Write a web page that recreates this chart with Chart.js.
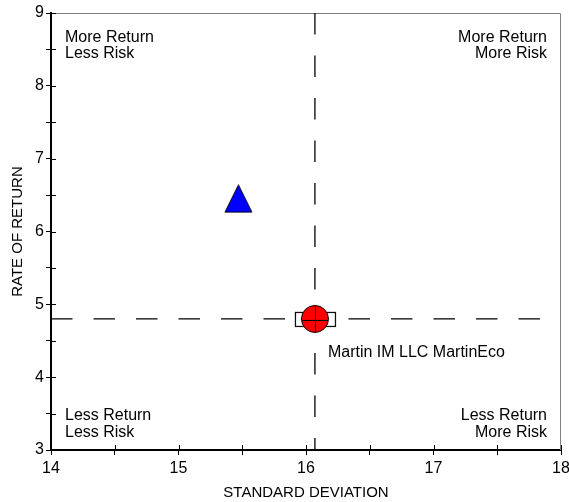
<!DOCTYPE html>
<html lang="en">
  <head>
    <meta charset="UTF-8" />
    <title>Risk / Return</title>
    <script src="https://cdn.jsdelivr.net/npm/chart.js"></script>
    <style>
      html, body { margin: 0; padding: 0; background: #fff; }
      #wrap { width: 569px; height: 502px; }
    </style>
  </head>
  <body>
    <div id="wrap"><canvas id="myChart" width="569" height="502"></canvas></div>

    <script>
      // data
      const xRange = [14, 18];
      const yRange = [3, 9];
      const managerName = "Martin IM LLC MartinEco";
      const managerPoint = { x: 16.07, y: 4.8 };
      const benchmarkPoint = { x: 15.47, y: 6.45 };
      // dashed cross-hair through the manager point
      const hLine = [{ x: 14, y: 4.8 }, { x: 18, y: 4.8 }];
      const vLine = [{ x: 16.07, y: 9 }, { x: 16.07, y: 3 }];
      const quadrantLabels = {
        topLeft: ["More Return", "Less Risk"],
        topRight: ["More Return", "More Risk"],
        bottomLeft: ["Less Return", "Less Risk"],
        bottomRight: ["Less Return", "More Risk"],
      };

      const FONT = "'Liberation Sans', Arial, sans-serif";
      Chart.defaults.font.family = FONT;
      Chart.defaults.color = "#000";

      // red circle sitting on a white box, with a cross in it
      function makeManagerMarker() {
        const c = document.createElement("canvas");
        c.width = 44;
        c.height = 30;
        const g = c.getContext("2d");
        g.fillStyle = "#fff";
        g.strokeStyle = "#000";
        g.lineWidth = 1.2;
        g.fillRect(2.5, 8.5, 40, 14);
        g.strokeRect(2.5, 8.5, 40, 14);
        g.beginPath();
        g.arc(22, 15, 13.5, 0, Math.PI * 2);
        g.fillStyle = "#ff0000";
        g.fill();
        g.lineWidth = 1;
        g.stroke();
        g.beginPath();
        g.moveTo(9, 16.5);
        g.lineTo(35, 16.5);
        g.moveTo(22.5, 2);
        g.lineTo(22.5, 28);
        g.stroke();
        return c;
      }

      function makeTriangle() {
        const c = document.createElement("canvas");
        c.width = 29;
        c.height = 29;
        const g = c.getContext("2d");
        g.beginPath();
        g.moveTo(14.5, 0.7);
        g.lineTo(28, 28);
        g.lineTo(1, 28);
        g.closePath();
        g.fillStyle = "#0000ff";
        g.fill();
        g.strokeStyle = "#000";
        g.lineWidth = 1;
        g.stroke();
        return c;
      }

      const frameAndText = {
        id: "frameAndText",
        beforeDatasetsDraw(chart) {
          const { ctx, chartArea: a } = chart;
          ctx.save();
          ctx.strokeStyle = "#808080";
          ctx.lineWidth = 1;
          ctx.beginPath();
          ctx.moveTo(a.left, a.top + 0.5);
          ctx.lineTo(a.right - 0.5, a.top + 0.5);
          ctx.lineTo(a.right - 0.5, a.bottom);
          ctx.stroke();

          // inner half of the tick marks
          ctx.strokeStyle = "#000";
          const xs = chart.scales.x, ys = chart.scales.y;
          ctx.beginPath();
          xs.ticks.forEach((t, i) => {
            const px = Math.round(xs.getPixelForTick(i)) + 0.5;
            ctx.moveTo(px, a.bottom);
            ctx.lineTo(px, a.bottom - 5);
          });
          ys.ticks.forEach((t, i) => {
            const py = Math.round(ys.getPixelForTick(i)) + 0.5;
            ctx.moveTo(a.left, py);
            ctx.lineTo(a.left + 5, py);
          });
          ctx.stroke();

          ctx.fillStyle = "#000";
          ctx.font = "16px " + FONT;
          ctx.textBaseline = "middle";
          ctx.textAlign = "left";
          ctx.fillText(quadrantLabels.topLeft[0], a.left + 14, a.top + 25);
          ctx.fillText(quadrantLabels.topLeft[1], a.left + 14, a.top + 41);
          ctx.fillText(quadrantLabels.bottomLeft[0], a.left + 14, a.bottom - 34);
          ctx.fillText(quadrantLabels.bottomLeft[1], a.left + 14, a.bottom - 17.5);
          ctx.textAlign = "right";
          ctx.fillText(quadrantLabels.topRight[0], a.right - 14, a.top + 25);
          ctx.fillText(quadrantLabels.topRight[1], a.right - 14, a.top + 41);
          ctx.fillText(quadrantLabels.bottomRight[0], a.right - 14, a.bottom - 34);
          ctx.fillText(quadrantLabels.bottomRight[1], a.right - 14, a.bottom - 17.5);

          // manager name under the marker
          ctx.textAlign = "left";
          const mx = xs.getPixelForValue(managerPoint.x);
          const my = ys.getPixelForValue(managerPoint.y);
          ctx.fillText(managerName, mx + 13, my + 34);
          ctx.restore();
        },
      };

      const ctx = document.getElementById("myChart").getContext("2d");
      const myChart = new Chart(ctx, {
        type: "scatter",
        data: {
          datasets: [
            {
              label: managerName,
              data: [managerPoint],
              pointStyle: makeManagerMarker(),
              pointRadius: 14,
            },
            {
              label: "Benchmark",
              data: [benchmarkPoint],
              pointStyle: makeTriangle(),
              pointRadius: 14,
            },
            {
              data: hLine,
              showLine: true,
              pointRadius: 0,
              borderColor: "#000",
              borderWidth: 1.3,
              borderDash: [21.5, 21],
            },
            {
              data: vLine,
              showLine: true,
              pointRadius: 0,
              borderColor: "#000",
              borderWidth: 1.3,
              borderDash: [21.5, 21],
            },
          ],
        },
        options: {
          responsive: false,
          animation: false,
          layout: { autoPadding: false, padding: { top: 13, right: 8, left: 0, bottom: 0 } },
          plugins: { legend: { display: false }, tooltip: { enabled: false } },
          scales: {
            x: {
              type: "linear",
              min: xRange[0],
              max: xRange[1],
              afterFit(s) {
                s.height = 52;
                s.paddingLeft = 0;
                s.paddingRight = 0;
              },
              ticks: {
                stepSize: 0.5,
                autoSkip: false,
                maxRotation: 0,
                padding: 4,
                font: { size: 16 },
                callback: (v) => (Number.isInteger(v) ? v : ""),
              },
              grid: { drawOnChartArea: false, tickLength: 5, color: "#000" },
              border: { color: "#000", width: 2 },
              title: {
                display: true,
                text: "STANDARD DEVIATION",
                font: { size: 15 },
                padding: { top: 0, bottom: 0 },
              },
            },
            y: {
              type: "linear",
              min: yRange[0],
              max: yRange[1],
              afterFit(s) {
                s.width = 51;
                s.paddingTop = 0;
                s.paddingBottom = 0;
              },
              ticks: {
                stepSize: 0.5,
                autoSkip: false,
                padding: 2,
                font: { size: 16 },
                callback: (v) => (Number.isInteger(v) ? v : ""),
              },
              grid: { drawOnChartArea: false, tickLength: 5, color: "#000" },
              border: { color: "#000", width: 2 },
              title: {
                display: true,
                text: "RATE OF RETURN",
                font: { size: 15 },
                padding: { top: 9, bottom: 0 },
              },
            },
          },
        },
        plugins: [frameAndText],
      });
    </script>
  </body>
</html>
